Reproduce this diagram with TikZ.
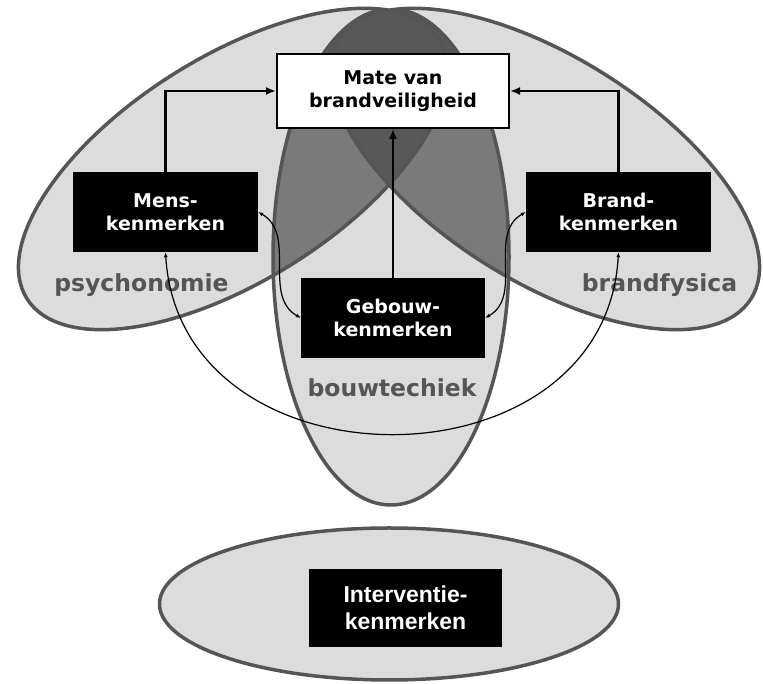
\documentclass[tikz,border=0pt]{standalone}
\usepackage{fontspec}
\setmainfont{DejaVu Sans}
\newfontfamily\arialfont{Liberation Sans}
\usetikzlibrary{arrows.meta}
\definecolor{lightfill}{RGB}{220,220,220}
\definecolor{midfill}{RGB}{122,122,122}
\definecolor{darkfill}{RGB}{88,88,88}
\definecolor{rim}{RGB}{85,85,85}

\begin{document}
\begin{tikzpicture}[x=1pt,y=1pt,
	fieldline/.style={draw=rim, line width=3.5pt},
	kenmerk/.style={fill=black, text=white, align=center, inner sep=0pt, minimum width=185pt, minimum height=80pt, font=\bfseries\fontsize{19}{23}\selectfont},
	veld/.style={text=rim, anchor=base, font=\bfseries\fontsize{23.5}{28}\selectfont},
	pijl/.style={line width=2.4pt, -{Latex[length=10pt,width=8pt]}},
	wissel/.style={line width=1.2pt, {Latex[length=5pt,width=4pt]}-{Latex[length=5pt,width=4pt]}}]
	\useasboundingbox (0,0) rectangle (763,684);

	%fields psychonomie and brandfysica
	\fill[lightfill] (233,515) circle [x radius=243.5, y radius=112, rotate=32.2];
	\fill[lightfill] (545,515) circle [x radius=243.5, y radius=112, rotate=-32.2];

	%field bouwtechniek with its overlaps
	\begin{scope}
		\clip (233,515) circle [x radius=243.5, y radius=112, rotate=32.2]
			(545,515) circle [x radius=243.5, y radius=112, rotate=-32.2]
			(0,0) -- (763,0) -- (763,540) -- (0,540) -- cycle;
		\fill[lightfill] (391,427) ellipse (118 and 248);
		\begin{scope}
			\clip (391,427) ellipse (118 and 248);
			\begin{scope}
				\clip (233,515) circle [x radius=243.5, y radius=112, rotate=32.2];
				\fill[midfill] (0,0) rectangle (763,684);
			\end{scope}
			\begin{scope}
				\clip (545,515) circle [x radius=243.5, y radius=112, rotate=-32.2];
				\fill[midfill] (0,0) rectangle (763,684);
			\end{scope}
			\begin{scope}
				\clip (233,515) circle [x radius=243.5, y radius=112, rotate=32.2];
				\clip (545,515) circle [x radius=243.5, y radius=112, rotate=-32.2];
				\fill[darkfill] (0,0) rectangle (763,684);
			\end{scope}
			\fill[darkfill] (0,593) rectangle (763,684);
		\end{scope}
		\draw[fieldline] (391,427) ellipse (118 and 248);
	\end{scope}
	\draw[fieldline] (233,515) circle [x radius=243.5, y radius=112, rotate=32.2];
	\draw[fieldline] (545,515) circle [x radius=243.5, y radius=112, rotate=-32.2];

	%field interventie
	\draw[fieldline, fill=lightfill] (389,80) ellipse (229.5 and 76);

	%labels
	\node[veld] (psy) at (141.5,392) {psychonomie};
	\node[veld] (bf) at (659.5,392) {brandfysica};
	\node[veld] (bt) at (392,287) {bouwtechiek};

	%boxes
	\node[draw=black, line width=2pt, fill=white, align=center, inner sep=0pt, minimum width=232pt, minimum height=74pt, font=\bfseries\fontsize{19}{23}\selectfont] (mate) at (393,593) {Mate van\\brandveiligheid};
	\node[kenmerk] (mens) at (165.5,472) {Mens-\\kenmerken};
	\node[kenmerk] (brand) at (618.5,472) {Brand-\\kenmerken};
	\node[kenmerk, minimum width=184pt] (gebouw) at (393,366) {Gebouw-\\kenmerken};
	\node[kenmerk, minimum width=193pt, minimum height=78pt, font=\arialfont\bfseries\fontsize{23}{27}\selectfont] (interventie) at (405.5,76) {Interventie-\\kenmerken};

	%arrows
	\draw[pijl] (mens.north) |- (mate.west);
	\draw[pijl] (brand.north) |- (mate.east);
	\draw[pijl] (gebouw.north) -- (mate.south);
	\draw[wissel] (mens.east) to[out=-30,in=150] (gebouw.west);
	\draw[wissel] (brand.west) to[out=210,in=30] (gebouw.east);
	\draw[wissel] (mens.south) .. controls (180,190) and (605,190) .. (brand.south);
\end{tikzpicture}
\end{document}
